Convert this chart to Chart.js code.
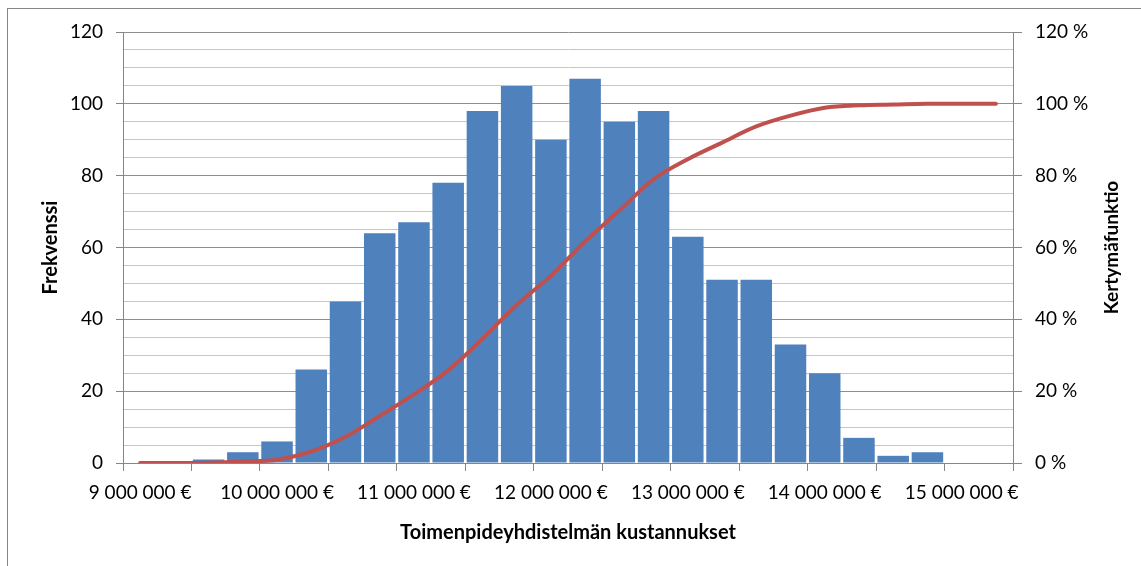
<!DOCTYPE html>
<html>
<head>
<meta charset="utf-8">
<script src="https://cdn.jsdelivr.net/npm/chart.js@4.4.1/dist/chart.umd.min.js"></script>
<style>
  html, body { margin: 0; padding: 0; background: #ffffff; }
  canvas { display: block; }
</style>
</head>
<body>
<canvas id="chart" width="1141" height="566"></canvas>
<script>
// Cost classes of the simulated totals (€), one bar per class
const costBins = [
  9000000, 9250000, 9500000, 9750000,
  10000000, 10250000, 10500000, 10750000,
  11000000, 11250000, 11500000, 11750000,
  12000000, 12250000, 12500000, 12750000,
  13000000, 13250000, 13500000, 13750000,
  14000000, 14250000, 14500000, 14750000,
  15000000, 15250000
];

// Frequency of each cost class
const frequency = [
  0, 0, 1, 3, 6, 26, 45, 64, 67, 78, 98, 105, 90,
  107, 95, 98, 63, 51, 51, 33, 25, 7, 2, 3, 0, 0
];

// Cumulative distribution (%)
const cumulativePct = [
  0, 0, 0.1, 0.4, 0.9, 3.2, 7.3, 13.1, 19.1, 25.8, 34.6, 44.0, 52.1,
  61.7, 70.3, 79.0, 84.6, 89.2, 93.7, 96.7, 98.9, 99.6, 99.8, 100, 100, 100
];

// Labelled values on the two vertical axes
const freqTicks = [0, 20, 40, 60, 80, 100, 120];
const pctTicks = [0, 20, 40, 60, 80, 100, 120];

const xTitle = 'Toimenpideyhdistelmän kustannukset';
const yTitle = 'Frekvenssi';
const y2Title = 'Kertymäfunktio';

const axisGray = '#868686';
const majorGrid = '#8e8e8e';
const minorGrid = '#c6c6c6';
const barBlue = '#4F81BD';
const lineRed = '#C0504D';
const FONT = 'Lato, "Open Sans", "DejaVu Sans", sans-serif';

function euro(n) {
  return String(n).replace(/\B(?=(\d{3})+(?!\d))/g, ' ') + ' €';
}

// White page with the outer chart frame
const framePlugin = {
  id: 'frame',
  beforeDraw(chart) {
    const ctx = chart.ctx;
    ctx.save();
    ctx.fillStyle = '#ffffff';
    ctx.fillRect(0, 0, chart.width, chart.height);
    ctx.strokeStyle = axisGray;
    ctx.lineWidth = 1;
    ctx.strokeRect(7.5, 8.5, chart.width + 20, chart.height + 20);
    ctx.restore();
  }
};

// Right-hand axis title, read bottom-to-top
const rightTitlePlugin = {
  id: 'rightTitle',
  afterDraw(chart) {
    const ctx = chart.ctx;
    const area = chart.chartArea;
    ctx.save();
    ctx.translate(1112, (area.top + area.bottom) / 2);
    ctx.rotate(-Math.PI / 2);
    ctx.font = 'bold 19px ' + FONT;
    ctx.fillStyle = '#000000';
    ctx.textAlign = 'center';
    ctx.textBaseline = 'middle';
    ctx.fillText(y2Title, 0, 0);
    ctx.restore();
  }
};

function draw() {
  Chart.defaults.font.family = FONT;
  Chart.defaults.color = '#000000';

  new Chart(document.getElementById('chart'), {
    data: {
      labels: costBins,
      datasets: [
        {
          type: 'line',
          label: y2Title,
          data: cumulativePct,
          yAxisID: 'y2',
          borderColor: lineRed,
          borderWidth: 4,
          borderCapStyle: 'round',
          borderJoinStyle: 'round',
          pointRadius: 0,
          tension: 0.33,
          order: 0
        },
        {
          type: 'bar',
          label: yTitle,
          data: frequency,
          yAxisID: 'y',
          backgroundColor: barBlue,
          borderWidth: 0,
          barPercentage: 0.92,
          categoryPercentage: 1.0,
          order: 1
        }
      ]
    },
    options: {
      responsive: false,
      animation: false,
      layout: { padding: { top: 32, left: 0, right: 0, bottom: 0 } },
      plugins: {
        legend: { display: false },
        tooltip: { enabled: false }
      },
      scales: {
        x: {
          type: 'category',
          offset: true,
          grid: {
            offset: true,
            drawOnChartArea: false,
            tickLength: 8,
            tickWidth: 1,
            tickColor: (c) => (c.index === undefined || c.index % 2 === 0) ? axisGray : 'rgba(0,0,0,0)'
          },
          border: { color: axisGray, width: 1 },
          ticks: {
            autoSkip: false,
            maxRotation: 0,
            minRotation: 0,
            padding: 10,
            font: { size: 19 },
            callback: (v, i) => (i % 4 === 0 ? euro(costBins[i]) : '')
          },
          title: {
            display: true,
            text: xTitle,
            font: { size: 20, weight: 'bold' },
            padding: { top: 0, bottom: 21 }
          },
          afterFit: (s) => { s.height = 103; }
        },
        y: {
          position: 'left',
          min: 0,
          max: 120,
          grid: {
            color: (c) => (c.tick && c.tick.value % 20 === 0) ? majorGrid : minorGrid,
            tickLength: 7,
            tickColor: (c) => (c.tick && c.tick.value % 20 === 0) ? axisGray : 'rgba(0,0,0,0)'
          },
          border: { color: axisGray, width: 1 },
          ticks: {
            stepSize: 5,
            autoSkip: false,
            padding: 13,
            font: { size: 19 },
            callback: (v) => (freqTicks.includes(v) ? String(v) : '')
          },
          title: {
            display: true,
            text: yTitle,
            font: { size: 20, weight: 'bold' },
            padding: { top: 39, bottom: 0 }
          },
          afterFit: (s) => { s.width = 123; }
        },
        y2: {
          position: 'right',
          min: 0,
          max: 120,
          grid: {
            drawOnChartArea: false,
            tickLength: 9,
            tickColor: axisGray
          },
          border: { color: axisGray, width: 1 },
          ticks: {
            stepSize: 20,
            autoSkip: false,
            padding: 13,
            font: { size: 19 },
            callback: (v) => (pctTicks.includes(v) ? v + ' %' : '')
          },
          afterFit: (s) => { s.width = 128; }
        }
      }
    },
    plugins: [framePlugin, rightTitlePlugin]
  });
}

if (document.fonts && document.fonts.load) {
  Promise.all([
    document.fonts.load('19px Lato'),
    document.fonts.load('bold 20px Lato')
  ]).then(draw, draw);
} else {
  draw();
}
</script>
</body>
</html>
